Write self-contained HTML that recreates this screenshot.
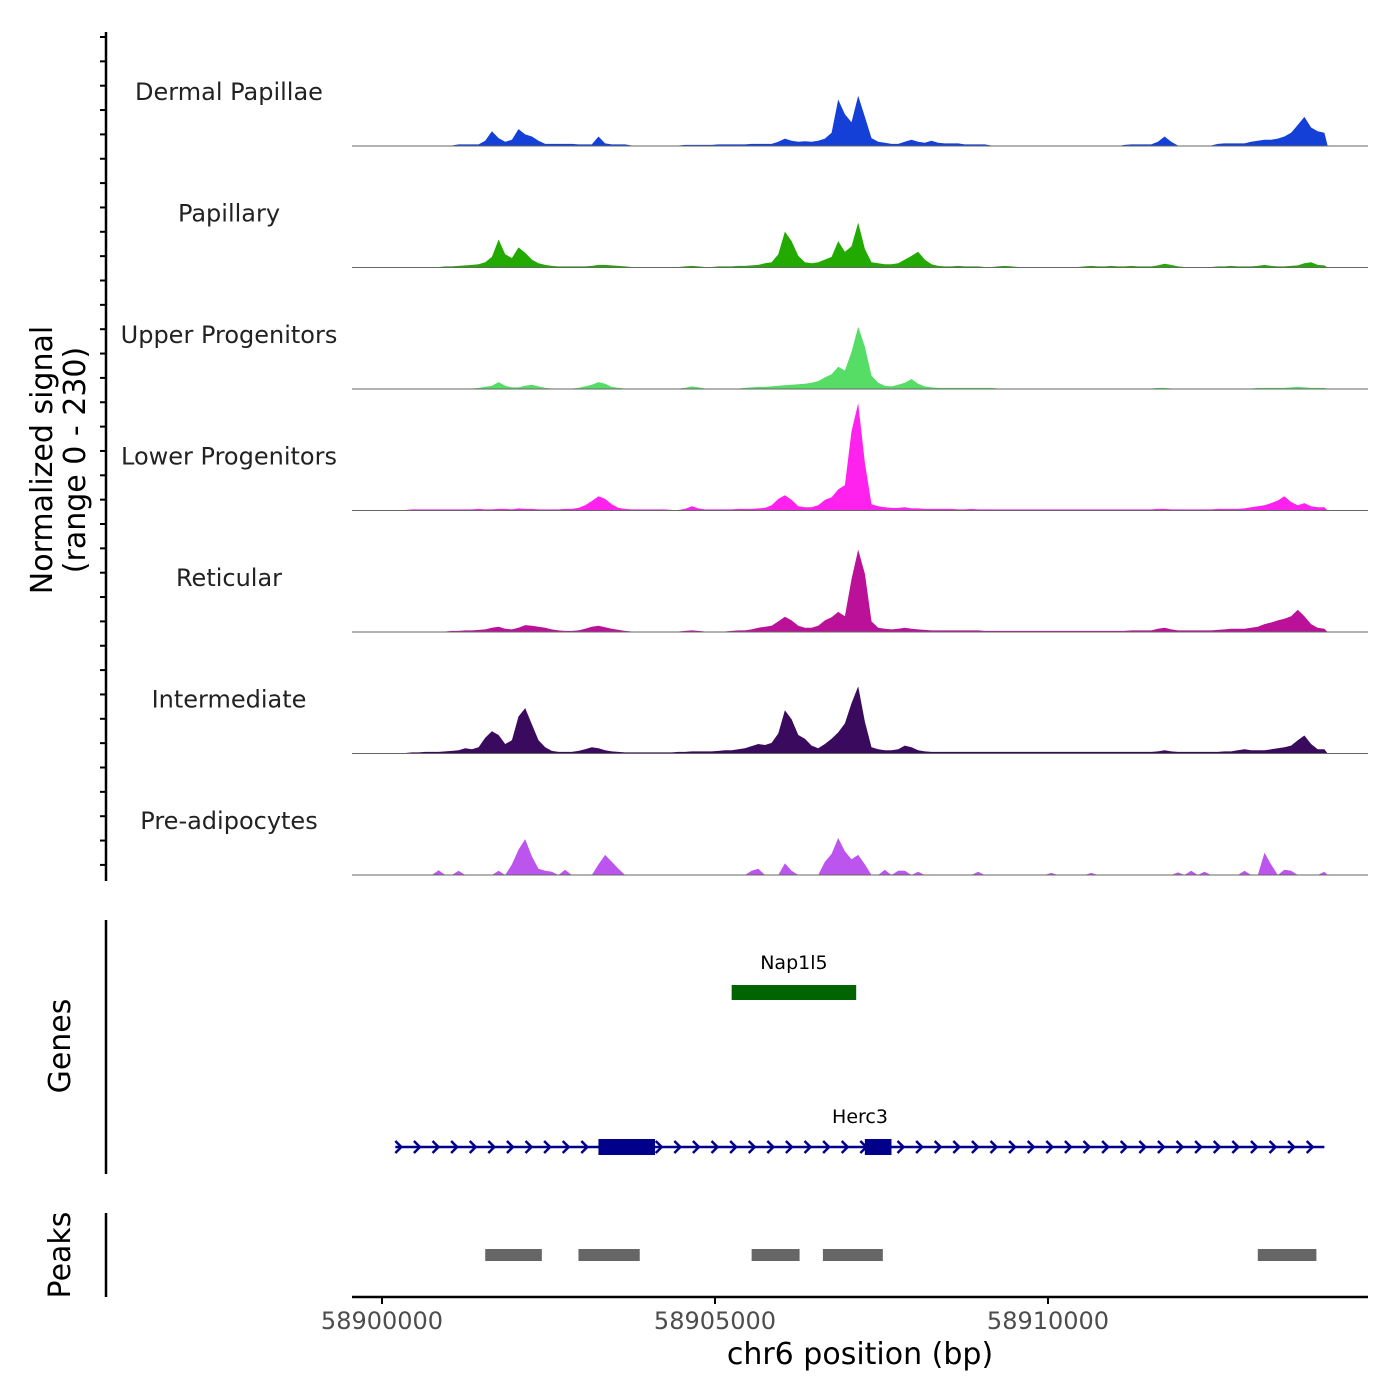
<!DOCTYPE html>
<html><head><meta charset="utf-8"><style>
html,body{margin:0;padding:0;background:#fff;}
svg{display:block;font-family:"DejaVu Sans","Liberation Sans",sans-serif;}
</style></head><body>
<svg id="chart" width="1400" height="1400" viewBox="0 0 1400 1400">
<g id="left-axis"></g>
<text transform="translate(52,460) rotate(-90)" text-anchor="middle" font-size="30" fill="#000">Normalized signal</text>
<text transform="translate(85,460) rotate(-90)" text-anchor="middle" font-size="30" fill="#000">(range 0 - 230)</text>
<g id="tracks"></g>
<line x1="106" y1="920" x2="106" y2="1174" stroke="#000" stroke-width="2.5"/>
<text transform="translate(70,1046) rotate(-90)" text-anchor="middle" font-size="30">Genes</text>
<g id="genes"></g>
<line x1="106" y1="1213" x2="106" y2="1297" stroke="#000" stroke-width="2.5"/>
<text transform="translate(70,1255) rotate(-90)" text-anchor="middle" font-size="30">Peaks</text>
<g id="peaks"></g>
<g id="xaxis"></g>
<text x="860" y="1364" text-anchor="middle" font-size="30">chr6 position (bp)</text>
</svg>
<script>
const binStart = 58900000;
const binSize = 100;
const trackNames = ["Dermal Papillae","Papillary","Upper Progenitors","Lower Progenitors","Reticular","Intermediate","Pre-adipocytes"];
const trackColors = ["#1540d8","#22aa00","#55dd66","#ff22ee","#bb1199","#3a0a5e","#bb55ee"];
const dpVals = [0,0,0,1,1,1,1,1,1,1, 1,3,3,3,3,10,28,15,8,12, 32,22,18,10,4,4,4,4,4,3, 3,3,18,5,3,3,3,1,1,1, 1,1,1,1,1,2,2,2,2,2, 3,3,3,3,3,4,4,4,4,8, 14,10,8,9,8,10,14,25,88,60, 45,95,55,15,8,6,4,4,8,12, 8,6,10,6,5,5,5,3,3,3, 3,1,1,1,1,1,0,0,0,0, 0,0,0,0,0,0,0,0,0,0, 0,2,3,3,3,3,8,18,8,1, 1,1,1,1,1,4,5,5,5,5, 8,10,12,12,14,18,25,40,55,35, 28,25];
const paVals = [0,0,0,1,1,1,1,1,1,2, 2,3,4,5,6,10,20,53,25,18, 38,28,15,8,5,3,2,2,2,2, 2,3,5,5,4,3,2,1,1,1, 1,1,1,1,1,2,3,2,1,1, 2,2,2,3,3,4,5,8,10,25, 68,50,22,10,8,10,15,20,50,30, 40,85,35,10,8,6,6,8,15,22, 30,15,6,3,2,2,3,2,2,2, 1,1,2,3,2,1,1,1,1,1, 1,1,1,1,1,2,3,2,2,3, 2,2,3,2,2,2,4,7,5,2, 1,1,1,1,1,2,2,3,2,2, 2,3,5,3,2,2,3,4,8,10, 5,4];
const upVals = [0,0,0,0,1,1,1,1,1,1, 1,1,1,1,2,4,6,13,6,3, 3,6,8,5,2,1,1,1,1,2, 5,8,13,10,4,2,1,1,1,1, 1,1,1,1,1,2,5,3,1,1, 1,1,1,1,2,3,4,4,5,6, 7,8,9,10,12,15,22,28,42,35, 70,118,80,25,12,6,5,8,12,19, 10,5,3,2,2,2,2,2,2,2, 2,2,1,1,1,1,1,1,1,1, 1,1,1,1,1,1,1,1,1,1, 1,1,1,1,1,1,2,2,1,1, 1,1,1,1,1,1,1,1,1,1, 1,2,2,2,2,2,3,4,3,2, 2,2];
const lpVals = [0,0,0,1,2,2,2,2,2,2, 2,2,2,2,3,2,2,3,3,2, 4,3,3,2,2,2,2,3,3,5, 10,18,27,22,12,5,3,2,2,2, 2,2,2,1,1,3,8,4,2,2, 2,2,2,3,3,3,4,5,10,22, 29,20,8,6,6,10,20,25,40,48, 150,203,90,12,8,6,5,5,6,4, 4,3,3,3,3,3,2,2,3,2, 2,2,2,2,2,2,2,2,2,2, 2,2,2,2,2,2,2,2,2,2, 2,2,2,2,2,2,3,3,2,2, 2,2,2,2,2,3,3,3,3,4, 6,8,10,14,19,27,16,10,14,8, 6,6];
const reVals = [0,0,0,0,1,1,1,1,1,1, 2,2,3,3,4,5,8,10,6,5, 8,13,12,10,8,5,3,2,2,3, 6,10,12,9,6,4,2,1,1,1, 1,1,1,1,1,2,3,2,1,1, 1,1,2,3,3,5,8,10,12,20, 29,22,12,8,8,12,22,28,38,30, 100,156,110,20,8,6,5,6,8,6, 5,4,3,3,3,3,3,3,3,3, 2,2,2,2,2,2,2,2,2,2, 2,2,2,2,2,2,2,2,2,2, 2,2,3,3,3,3,6,8,5,3, 3,3,3,3,3,4,5,6,6,6, 8,10,15,18,22,25,30,42,30,15, 8,6];
const imVals = [0,0,0,1,2,2,3,3,3,4, 5,6,10,8,12,30,42,35,18,25, 70,86,55,25,12,5,3,3,3,5, 8,12,10,6,4,3,2,2,2,2, 2,2,2,2,3,3,4,4,4,4, 5,6,6,8,10,14,18,16,20,38, 82,65,35,28,15,10,18,28,40,57, 95,127,60,12,8,6,6,8,15,12, 6,4,3,3,3,3,3,3,3,3, 3,3,3,3,3,3,3,3,3,3, 3,3,3,3,3,3,3,3,3,3, 3,3,3,3,3,3,4,6,4,3, 3,3,3,3,3,3,4,4,6,8, 6,6,6,8,10,12,15,25,34,18, 8,8];
const prVals = [0,0,0,0,0,0,0,0,9,0, 0,8,0,0,0,0,0,8,0,20, 48,68,35,12,8,6,0,10,0,0, 0,0,20,38,25,12,0,0,0,0, 0,0,0,0,0,0,0,0,0,0, 0,0,0,0,0,8,12,0,0,0, 22,8,0,0,0,0,25,40,70,45, 30,38,20,0,0,10,0,8,8,0, 6,0,0,0,0,0,0,0,0,6, 0,0,0,0,0,0,0,0,0,0, 4,0,0,0,0,0,4,0,0,0, 0,0,0,0,0,0,0,0,0,5, 0,8,0,6,0,0,0,0,0,8, 0,0,42,20,0,10,8,0,0,0, 0,6];
const trackValues = [dpVals,paVals,upVals,lpVals,reVals,imVals,prVals];
const xTicks = [58900000,58905000,58910000];
const geneNames = ["Nap1l5","Herc3"];
const geneStarts = [58905250,58900200];
const geneEnds = [58907120,58914150];
const herc3ExonStarts = [58903250,58907250];
const herc3ExonEnds = [58904100,58907650];
const peakStarts = [58901550,58902950,58905550,58906620,58913150];
const peakEnds = [58902400,58903870,58906270,58907520,58914030];

const NS = "http://www.w3.org/2000/svg";
function mk(tag, attrs, parent){const e=document.createElementNS(NS,tag);for(const k in attrs)e.setAttribute(k,attrs[k]);parent.appendChild(e);return e;}
function xScale(bp){return 382 + (bp-58900000)*(333/5000);}
const trackH = 121.5, firstBase = 146, yMax = 230;
function yScale(v, base){return base - v*(trackH/yMax);}

const la = document.getElementById('left-axis');
const axl = mk('line',{x1:106,y1:32,x2:106,y2:881,stroke:'#000','stroke-width':2.5},la);


for(let y=37;y<=880;y+=24.35){
  const t = mk('line',{x1:100,y1:y,x2:106,y2:y,stroke:'#000','stroke-width':2},la);
  
  
}

const tg = document.getElementById('tracks');
trackValues.forEach((vals,ti)=>{
  const base = firstBase + ti*trackH;
  const g = mk('g',{},tg);
  
  
  const lab = mk('text',{x:229,y:base-46,'text-anchor':'middle','font-size':24,fill:'#222'},g);
  lab.textContent = trackNames[ti];
  
  
  let d = 'M'+xScale(binStart).toFixed(1)+','+base;
  vals.forEach((v,i)=>{
    const xc = xScale(binStart+(i+0.5)*binSize);
    d += ' L'+xc.toFixed(1)+','+yScale(v,base).toFixed(1);
  });
  d += ' L'+xScale(binStart+vals.length*binSize).toFixed(1)+','+base+' Z';
  const p = mk('path',{d:d,fill:trackColors[ti],stroke:'none'},g);
  
  
  const bl = mk('line',{x1:352,y1:base,x2:1368,y2:base,stroke:'#666','stroke-width':1},g);
  
  
});

const gg = document.getElementById('genes');
const nx0 = xScale(geneStarts[0]), nx1 = xScale(geneEnds[0]);
const nap = mk('rect',{x:nx0,y:985,width:nx1-nx0,height:15,fill:'#006400'},gg);


const napL = mk('text',{x:(nx0+nx1)/2,y:969,'text-anchor':'middle','font-size':19},gg);
napL.textContent = geneNames[0];


const hx0 = xScale(geneStarts[1]), hx1 = xScale(geneEnds[1]);
const hl = mk('line',{x1:hx0,y1:1147,x2:hx1,y2:1147,stroke:'#00008b','stroke-width':2.5},gg);


for(let x=hx0+4;x<=hx1;x+=18.6){
  const c = mk('path',{d:`M${x-4},1141 L${x+2},1147 L${x-4},1153`,fill:'none',stroke:'#00008b','stroke-width':2.5},gg);
  
  
}
herc3ExonStarts.forEach((s,i)=>{
  const a = xScale(s), b = xScale(herc3ExonEnds[i]);
  const r = mk('rect',{x:a,y:1139,width:b-a,height:16,fill:'#00008b'},gg);
  
  
});
const hL = mk('text',{x:860,y:1123,'text-anchor':'middle','font-size':19},gg);
hL.textContent = geneNames[1];



const pg = document.getElementById('peaks');
peakStarts.forEach((s,i)=>{
  const a = xScale(s), b = xScale(peakEnds[i]);
  const r = mk('rect',{x:a,y:1249,width:b-a,height:12,fill:'#666'},pg);
  
  
});

const xg = document.getElementById('xaxis');
const xl = mk('line',{x1:352,y1:1297,x2:1368,y2:1297,stroke:'#000','stroke-width':2.5},xg);


xTicks.forEach(v=>{
  const x = xScale(v);
  const t = mk('line',{x1:x,y1:1297,x2:x,y2:1304,stroke:'#000','stroke-width':2},xg);
  
  
  const l = mk('text',{x:x,y:1329,'text-anchor':'middle','font-size':24,fill:'#4d4d4d'},xg);
  l.textContent = String(v);
  
  
});
</script>
</body></html>
